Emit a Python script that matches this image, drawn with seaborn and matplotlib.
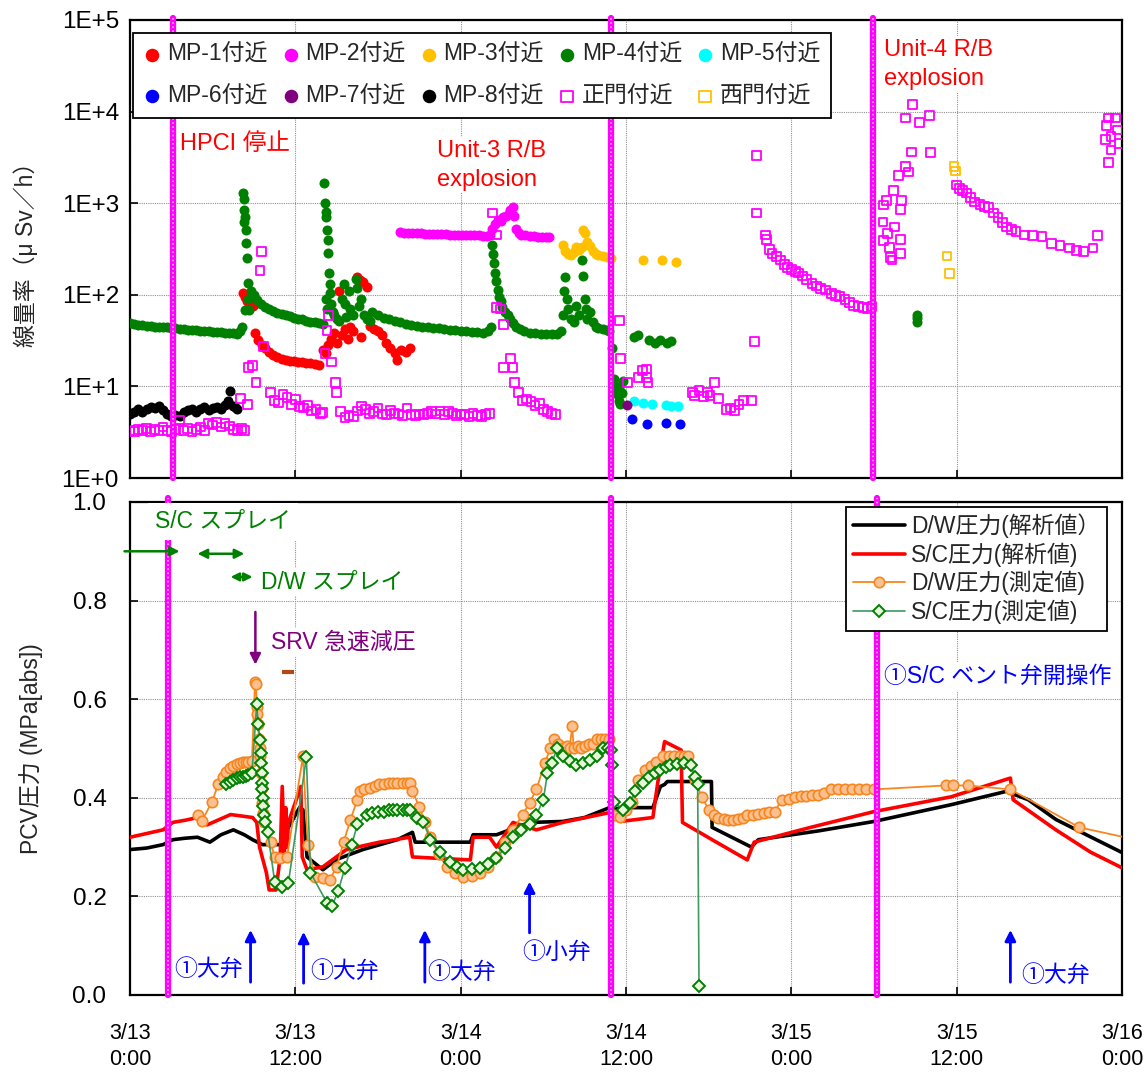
import matplotlib
matplotlib.use('Agg')
import matplotlib.pyplot as plt
import seaborn as sns

# 横軸: 3/13 0:00 からの経過時間 [h]
tick_hours = [0, 12, 24, 36, 48, 60, 72]
tick_labels = ['3/13\n0:00', '3/13\n12:00', '3/14\n0:00', '3/14\n12:00',
               '3/15\n0:00', '3/15\n12:00', '3/16\n0:00']
dose_ticks = [1, 10, 100, 1000, 10000, 100000]
dose_ticklabels = ['1E+0', '1E+1', '1E+2', '1E+3', '1E+4', '1E+5']
pcv_ticks = [0.0, 0.2, 0.4, 0.6, 0.8, 1.0]

# ---- 線量率 (μSv/h) ----
mp1_h = [8.2, 8.35, 8.5, 8.7, 8.9, 9.05, 9.3, 9.55, 9.8, 10.1, 10.4, 10.7, 11.0, 11.3, 11.6, 11.9,
         12.2, 12.5, 12.8, 13.1, 13.4, 13.7, 14.0, 14.2, 14.4, 14.6, 14.8, 15.0, 15.2, 15.4, 15.6,
         15.8, 16.0, 16.2, 16.5, 16.7, 16.9, 17.2, 16.8, 17.4, 17.7, 18.0, 18.3, 18.6, 18.9, 19.2,
         19.4, 19.7, 20.0, 20.3]
mp1_v = [105, 95, 85, 80, 75, 38, 32, 28, 26, 24, 22, 21, 20, 19.5, 19, 19,
         18.5, 18.5, 18, 18, 17.5, 17, 25, 23, 28, 33, 38, 30, 110, 36, 42,
         33, 45, 40, 157, 145, 138, 123, 35, 46, 42, 40, 36, 30, 26, 23,
         19.5, 25, 24, 26]

mp2_h = [19.6, 19.9, 20.2, 20.5, 20.8, 21.1, 21.4, 21.7, 22.0, 22.3, 22.6, 22.9, 23.2, 23.5, 23.8,
         24.1, 24.4, 24.7, 25.0, 25.3, 25.6, 25.9, 26.1, 26.3, 26.5, 26.7, 26.9, 27.1, 27.3, 27.5,
         27.6, 27.8, 27.9, 28.0, 28.2, 28.4, 28.7, 29.0, 29.3, 29.6, 29.9, 30.2, 30.4]
mp2_v = [480, 475, 475, 470, 470, 468, 465, 465, 462, 460, 460, 458, 455, 455, 452,
         450, 450, 448, 445, 445, 442, 440, 445, 520, 600, 650, 640, 700, 720, 760,
         850, 900, 720, 520, 470, 450, 445, 440, 435, 430, 430, 428, 425]

mp3_h = [31.4, 31.6, 31.8, 32.0, 32.2, 32.4, 32.6, 32.8, 32.9, 33.0, 33.2, 33.4, 33.6, 33.8,
         34.0, 34.3, 34.6, 34.9, 37.2, 38.6, 39.6]
mp3_v = [350, 300, 280, 270, 290, 330, 310, 330, 510, 470, 380, 340, 300, 280,
         270, 265, 260, 255, 240, 240, 230]

mp4_h = [0.0, 0.3, 0.6, 0.9, 1.2, 1.5, 1.8, 2.1, 2.4, 2.7, 3.0, 3.3, 3.6, 3.9, 4.2, 4.5, 4.8,
         5.1, 5.4, 5.7, 6.0, 6.3, 6.6, 6.9, 7.2, 7.5, 7.8, 8.0, 8.1,
         8.2, 8.25, 8.3, 8.35, 8.4, 8.45, 8.3, 8.5, 8.55, 8.6, 8.65, 8.35,
         8.8, 9.0, 9.2, 9.5, 9.8, 10.1, 10.4, 10.7, 11.0, 11.3, 11.6, 11.9, 12.2, 12.5, 12.8,
         13.1, 13.4, 13.7, 14.0,
         14.1, 14.15, 14.2, 14.25, 14.3, 14.35, 14.4, 14.45, 14.5, 14.55, 14.6, 14.7, 14.2, 14.3,
         14.8, 15.0, 15.2, 15.4, 15.5, 15.6, 15.7, 15.9, 16.0, 16.2, 16.4, 16.5, 16.6, 16.8,
         17.0, 17.2, 17.4,
         17.6, 18.0, 18.4, 18.8, 19.2, 19.6, 20.0, 20.4, 20.8, 21.2, 21.6, 22.0, 22.4, 22.8,
         23.2, 23.6, 24.0, 24.4, 24.8, 25.2, 25.6, 26.0, 26.2,
         26.3, 26.35, 26.4, 26.5, 26.6, 26.7, 26.8, 26.9, 27.0, 27.2, 27.4, 27.6, 27.8, 28.0,
         28.3, 28.6, 29.0, 29.4, 29.8, 30.2, 30.6, 31.0, 31.3,
         31.4, 31.5, 31.6, 31.7, 31.8, 32.0, 32.2, 32.4, 32.6, 32.8, 32.9, 33.0, 33.1, 33.2,
         33.4, 33.6, 33.8, 34.0, 34.3, 34.6, 34.8,
         35.0, 35.1, 35.2, 35.3, 35.4, 35.5, 35.6, 35.7, 35.8, 35.5,
         36.6, 36.9, 37.7, 38.1, 38.5, 39.0, 39.3, 57.1, 57.1, 57.15]
mp4_v = [49, 48, 47, 47, 46, 46, 45, 45, 44, 44, 43, 43, 42, 42, 41, 41, 41,
         40, 40, 40, 39, 39, 39, 38, 38, 38, 37, 40, 45,
         1280, 1100, 850, 700, 510, 365, 620, 250, 134, 90, 68, 68,
         110, 100, 88, 80, 74, 70, 66, 64, 62, 60, 58, 56, 55, 54, 52,
         51, 50, 49, 48,
         1660, 1000, 800, 710, 510, 400, 285, 173, 130, 104, 80, 65, 90, 70,
         60, 55, 52, 90, 130, 80, 57, 110, 70, 60, 150, 120, 75, 90,
         60, 55, 52,
         65, 60, 56, 54, 52, 50, 48, 47, 46, 45, 44, 43, 43, 42,
         41, 41, 40, 40, 39, 39, 38, 40, 45,
         350, 280, 220, 173, 140, 113, 95, 85, 74, 65, 60, 55, 49, 45,
         42, 40, 38, 38, 37, 37, 37, 37, 40,
         60, 110, 157, 90, 70, 55, 50, 75, 60, 240, 160, 90, 70, 55,
         65, 50, 45, 43, 42, 41, 40,
         26, 12, 10, 9, 8, 7, 6.5, 8.5, 11.5, 9.5,
         35, 36, 32, 30, 32, 30, 31, 50, 60, 56]

mp5_h = [36.6, 37.2, 37.9, 38.9, 39.3, 39.8]
mp5_v = [6.9, 6.6, 6.4, 6.3, 6.1, 6.1]
mp6_h = [36.4, 37.5, 38.9, 39.9]
mp6_v = [4.4, 3.9, 4.0, 3.9]
mp7_h = [36.1]
mp7_v = [6.3]

mp8_h = [0.0, 0.3, 0.6, 0.9, 1.2, 1.5, 1.8, 2.1, 2.4, 2.7, 3.0, 3.3, 3.6, 3.9, 4.2, 4.5, 4.8,
         5.1, 5.4, 5.7, 6.0, 6.3, 6.6, 6.9, 7.1, 7.25, 7.45, 7.6, 7.8]
mp8_v = [5.0, 5.3, 5.6, 5.2, 5.7, 6.0, 5.8, 6.1, 5.5, 5.0, 4.8, 4.9, 4.7, 5.2, 5.5, 5.7, 5.3,
         5.6, 5.9, 5.5, 5.8, 6.0, 5.7, 6.2, 7.0, 8.8, 6.1, 5.9, 5.7]

gate_h = [0.0, 0.3, 0.6, 0.9, 1.2, 1.5, 1.8, 2.1, 2.4, 2.7, 3.0, 3.3, 3.6, 3.9, 4.2, 4.5, 4.8,
          5.1, 5.4, 5.7, 6.0, 6.3, 6.6, 6.9, 7.2, 7.5, 7.8, 8.1, 8.3,
          8.0, 8.5, 9.55, 9.43, 9.67, 8.6, 8.9, 9.15,
          10.2, 10.5, 10.8, 11.1, 11.4, 11.7, 12.0, 12.3, 12.6, 12.9, 13.2, 13.5, 13.8, 14.0,
          14.4, 14.3, 14.15, 14.6, 14.9, 15.0,
          15.3, 15.6, 15.9, 16.2, 16.5, 16.8, 17.1, 17.4, 17.7, 18.0, 18.3, 18.6, 18.9, 19.2,
          19.5, 19.8, 20.1, 20.4, 20.7, 21.0, 21.3, 21.6, 21.9, 22.2, 22.5, 22.8, 23.1, 23.4,
          23.7, 24.0, 24.3, 24.6, 24.9, 25.2, 25.5, 25.8, 26.1,
          26.3, 26.6, 26.6, 26.9, 27.1, 27.6, 27.1, 27.8, 27.9,
          28.2, 28.5, 28.8, 29.1, 29.4, 29.7, 30.0, 30.3, 30.6, 30.9,
          35.5, 35.6, 36.1, 36.9, 37.2, 37.5, 37.5, 37.6,
          40.8, 41.0, 41.3, 41.6, 41.9, 42.1, 42.4, 42.7, 43.3, 43.6, 43.9, 44.2, 44.5, 45.1,
          45.5, 45.5, 45.3,
          46.1, 46.2, 46.4, 46.6, 46.9, 47.2, 47.5, 47.7, 48.0, 48.3, 48.5, 48.8, 49.1, 49.5,
          49.8, 50.1, 50.5, 50.9, 51.2, 51.5, 51.9, 52.2, 52.5, 52.9, 53.2, 53.5, 53.85,
          54.7, 54.65, 55.0, 55.15, 55.2, 55.5, 55.9, 55.9, 55.4, 55.8, 56.3, 56.5, 56.7, 56.3,
          56.8, 57.3, 58.0, 58.1, 55.9, 56.0, 54.9, 54.7, 55.3,
          60.0, 60.2, 60.4, 60.7, 61.0, 61.3, 61.7, 62.0, 62.3, 62.7, 63.0, 63.3, 63.6, 64.0,
          64.3, 64.9, 65.5, 66.2, 66.9, 67.5, 68.2, 68.7, 69.2, 69.9, 70.2,
          70.9, 71.0, 71.55, 71.7, 70.8, 71.2, 71.8, 71.2, 71.0]
gate_v = [3.3, 3.2, 3.4, 3.3, 3.5, 3.2, 3.4, 3.3, 3.6, 3.3, 3.2, 3.4, 4.3, 3.3, 3.5, 3.2, 3.4,
          3.6, 3.3, 3.9, 3.8, 4.0, 3.6, 3.9, 3.7, 3.4, 3.3, 3.5, 3.3,
          7.4, 6.3, 295, 186, 27, 16, 17, 11,
          8.6, 7.0, 6.6, 8.2, 7.5, 6.3, 7.2, 6.0, 5.8, 6.2, 5.4, 5.6, 5.1, 5.2,
          60, 41, 23, 18.5, 11, 8.5,
          5.3, 4.6, 4.8, 4.7, 5.4, 6.1, 5.6, 5.1, 5.3, 5.8, 5.0, 4.9, 5.5, 5.1,
          5.0, 4.8, 5.8, 4.9, 4.8, 5.0, 4.9, 5.1, 5.3, 5.0, 5.4, 4.9, 5.3, 5.1,
          4.8, 5.0, 4.9, 4.7, 5.1, 4.8, 4.7, 4.9, 5.1,
          780, 450, 72, 70, 47, 20, 16, 16, 11,
          8.5, 7.0, 7.3, 6.8, 6.2, 6.5, 5.6, 5.3, 5.1, 4.9,
          52, 20, 11, 12.6, 15, 15.5, 12.6, 11,
          8.5, 8.0, 9.0, 7.8, 8.5, 8.0, 11.0, 7.4, 5.6, 5.8, 5.5, 6.3, 7.0, 7.0,
          3300, 780, 31,
          450, 400, 310, 280, 260, 240, 215, 200, 190, 178, 173, 160, 148, 134,
          125, 118, 113, 104, 98, 95, 88, 82, 77, 74, 72, 71, 75,
          955, 625, 470, 330, 257, 550, 400, 280, 1380, 1990, 2500, 2190, 3630, 8500,
          12000, 7600, 9100, 3550, 850, 1080, 1080, 390, 240,
          1580, 1450, 1380, 1290, 1150, 1030, 960, 920, 890, 780, 700, 620, 550, 520,
          490, 450, 440, 430, 365, 345, 325, 305, 295, 325, 440,
          7100, 8500, 8500, 6300, 5000, 5300, 4500, 3800, 2800]

west_h = [59.8, 59.9, 59.3, 59.5]
west_v = [2500, 2250, 265, 170]

# ---- PCV圧力 (MPa[abs]) ----
dw_calc_h = [0.0, 1.2, 2.4, 3.1, 4.0, 4.9, 5.8, 6.6, 7.5, 8.3, 8.9, 9.6, 10.9, 11.4, 12.3, 12.55,
             12.85, 14.0, 15.0, 16.9, 19.4, 20.5, 20.7, 24.7, 24.9, 26.6, 29.0, 31.4, 33.0,
             34.8, 35.1, 35.6, 37.95, 38.5, 38.8, 39.0, 42.2, 42.25, 45.1, 45.6, 50.0, 54.0,
             59.6, 63.6, 65.2, 67.2, 69.7, 72.0]
dw_calc_v = [0.295, 0.298, 0.305, 0.315, 0.318, 0.32, 0.31, 0.325, 0.335, 0.325, 0.315, 0.305,
             0.305, 0.335, 0.38, 0.376, 0.28, 0.254, 0.275, 0.295, 0.315, 0.33, 0.31, 0.31,
             0.325, 0.325, 0.35, 0.352, 0.36, 0.38, 0.376, 0.38, 0.38, 0.423, 0.427, 0.433,
             0.433, 0.34, 0.30, 0.315, 0.333, 0.352, 0.386, 0.413, 0.396, 0.356, 0.321, 0.289]

sc_calc_h = [0.0, 2.4, 3.1, 4.1, 4.9, 5.6, 7.3, 8.9, 9.2, 9.4, 9.9, 10.1, 10.6, 10.9, 11.05,
             11.2, 11.3, 11.4, 11.5, 12.4, 12.5, 12.85, 14.0, 15.7, 18.1, 20.3, 20.5, 21.8,
             24.7, 24.9, 26.1, 26.6, 27.8, 29.5, 31.4, 34.8, 35.1, 35.6, 37.95, 38.3, 38.8,
             40.0, 40.1, 42.25, 44.8, 45.3, 49.4, 54.0, 59.6, 63.9, 64.1, 67.2, 69.7, 72.0]
sc_calc_v = [0.32, 0.335, 0.35, 0.355, 0.36, 0.345, 0.366, 0.36, 0.35, 0.30, 0.248, 0.213,
             0.213, 0.28, 0.423, 0.28, 0.38, 0.30, 0.35, 0.423, 0.28, 0.254, 0.26, 0.295,
             0.31, 0.32, 0.28, 0.278, 0.274, 0.32, 0.32, 0.30, 0.35, 0.335, 0.35, 0.37,
             0.366, 0.352, 0.36, 0.43, 0.514, 0.497, 0.35, 0.315, 0.274, 0.31, 0.34, 0.372,
             0.402, 0.44, 0.396, 0.335, 0.29, 0.258]

dw_meas_h = [4.9, 5.2, 5.95, 6.4, 6.75, 7.0, 7.25, 7.5, 7.75, 8.0, 8.2, 8.4, 8.6, 8.85,
             9.07, 9.15, 9.2, 9.25, 9.3, 9.35, 9.4, 9.43, 9.5, 9.55, 9.6, 9.65, 9.7, 10.2, 10.5,
             10.9, 11.4,
             12.55, 12.9, 13.4, 14.0, 14.5, 15.0, 15.5, 16.0, 16.5, 16.7, 17.0, 17.4, 17.8, 18.1,
             18.4, 18.8, 19.1, 19.4, 19.8, 20.1, 20.3, 20.5, 21.0, 21.4, 21.8, 22.4, 23.0, 23.6,
             24.2, 24.8, 25.4, 26.0, 26.6, 27.2, 27.8, 28.5, 29.0, 29.5, 30.1, 30.5, 30.8, 31.1,
             31.4, 31.7, 31.9, 32.1, 32.2, 32.5, 32.7, 33.0, 33.3, 33.6, 33.9, 34.2, 34.5, 34.8,
             35.1, 35.6, 36.0, 36.4, 36.9, 37.4, 37.8, 38.2, 38.7, 39.1, 39.5, 39.9, 40.2, 40.5,
             41.0, 41.5, 42.0, 42.4, 42.7, 43.1, 43.4,
             43.8, 44.1, 44.5, 44.8, 45.2, 45.6, 46.0, 46.4, 46.8, 47.3, 47.8, 48.3, 48.7, 49.1,
             49.5, 49.9, 50.4, 50.9, 51.4, 51.9, 52.4, 52.9, 53.4, 54.0,
             59.2, 59.7, 60.8, 63.9, 68.9, 73.5]
dw_meas_v = [0.366, 0.352, 0.392, 0.427, 0.443, 0.452, 0.46, 0.465, 0.468, 0.47, 0.472, 0.473,
             0.472, 0.475,
             0.634, 0.63, 0.585, 0.57, 0.55, 0.52, 0.50, 0.484, 0.45, 0.42, 0.39, 0.37, 0.35,
             0.31, 0.28,
             0.278, 0.28,
             0.484, 0.305, 0.24, 0.238, 0.234, 0.26, 0.31, 0.355, 0.396, 0.413, 0.418, 0.42,
             0.424, 0.427,
             0.427, 0.43, 0.43, 0.43, 0.43, 0.43, 0.43, 0.413, 0.382, 0.35, 0.32, 0.285, 0.26,
             0.247,
             0.24, 0.242, 0.248, 0.26, 0.28, 0.31, 0.335, 0.366, 0.39, 0.417, 0.47, 0.50, 0.52,
             0.51,
             0.50, 0.505, 0.50, 0.545, 0.50, 0.505, 0.50, 0.505, 0.51, 0.51, 0.52, 0.52, 0.52,
             0.52,
             0.366, 0.362, 0.375, 0.392, 0.437, 0.457, 0.465, 0.473, 0.484, 0.484, 0.484, 0.484,
             0.484, 0.484,
             0.437, 0.402, 0.376, 0.365, 0.36, 0.358, 0.355,
             0.355, 0.356, 0.36, 0.366, 0.366, 0.368, 0.37, 0.372, 0.372, 0.396, 0.398, 0.402,
             0.403, 0.404,
             0.405, 0.406, 0.41, 0.417, 0.417, 0.417, 0.417, 0.417, 0.417, 0.417,
             0.425, 0.425, 0.425, 0.417, 0.34, 0.312]

sc_meas_h = [7.0, 7.25, 7.5, 7.75, 8.0, 8.2, 8.4, 8.6, 8.85, 9.2, 9.3, 9.43, 9.48, 9.52, 9.55,
             9.58, 9.6, 9.63, 9.65, 9.7, 9.8, 10.0, 10.5, 11.0, 11.5,
             12.8, 13.1, 14.3, 14.65, 15.1, 15.6, 16.1, 16.5, 17.2, 17.6, 18.0, 18.4, 18.8, 19.1,
             19.4, 19.8, 20.1, 20.3, 20.8, 21.3, 21.8, 22.5, 23.2, 23.7, 24.2, 24.8, 25.4, 26.0,
             26.6, 27.2, 27.8, 28.4, 29.0, 29.5, 30.0, 30.3, 30.6, 31.0, 31.4, 31.9, 32.4, 32.9,
             33.4, 33.9, 34.3, 34.7, 34.9, 35.0, 35.1,
             35.8, 36.3, 36.65, 37.2, 37.7, 38.1, 38.5, 38.9, 39.2, 39.7, 40.2, 40.7, 41.0, 41.2,
             41.3]
sc_meas_v = [0.427, 0.432, 0.437, 0.44, 0.443, 0.443, 0.445, 0.447, 0.45, 0.59, 0.55, 0.518,
             0.49, 0.47, 0.45, 0.43, 0.417, 0.40, 0.384, 0.365, 0.35, 0.33, 0.23, 0.22, 0.228,
             0.482, 0.248, 0.187, 0.18, 0.21, 0.258, 0.305, 0.346, 0.366, 0.37, 0.372, 0.372,
             0.375, 0.376, 0.376, 0.376, 0.376, 0.376, 0.36, 0.35, 0.315, 0.29, 0.27, 0.26,
             0.254, 0.255, 0.258, 0.265, 0.278, 0.298, 0.32, 0.335, 0.346, 0.366, 0.396, 0.45,
             0.47, 0.50, 0.484, 0.475, 0.467, 0.47, 0.477, 0.485, 0.50, 0.50, 0.497, 0.467,
             0.392,
             0.376, 0.39, 0.413, 0.43, 0.443, 0.45, 0.457, 0.462, 0.467, 0.468, 0.47, 0.467,
             0.443, 0.427, 0.018]

FS = 16.5      # 凡例・注記
FS_RED = 17    # 上段の赤字注記
FS_YT = 17.5   # 縦軸目盛
FS_XT = 15.5   # 横軸目盛
MAG = '#FF00FF'

sns.set_style('ticks')
plt.rcParams['font.family'] = ['Liberation Sans', 'Noto Sans CJK JP']
plt.rcParams['axes.unicode_minus'] = False

fig = plt.figure(figsize=(11.48, 10.77), dpi=100)
ax1 = fig.add_axes([0.11324, 0.55617, 0.86411, 0.42526])
ax2 = fig.add_axes([0.11324, 0.07614, 0.86411, 0.45776])

# ---------------- 上段: 線量率 ----------------
def dots(h, v, color, label):
    sns.scatterplot(x=h, y=v, ax=ax1, color=color, s=52, linewidth=0, label=label,
                    zorder=3, legend=False)

dots(mp1_h, mp1_v, '#FF0000', 'MP-1付近')
dots(mp2_h, mp2_v, MAG, 'MP-2付近')
dots(mp3_h, mp3_v, '#FFC000', 'MP-3付近')
dots(mp4_h, mp4_v, '#008000', 'MP-4付近')
dots(mp5_h, mp5_v, '#00FFFF', 'MP-5付近')
dots(mp6_h, mp6_v, '#0000FF', 'MP-6付近')
dots(mp7_h, mp7_v, '#800080', 'MP-7付近')
dots(mp8_h, mp8_v, '#000000', 'MP-8付近')
sns.scatterplot(x=gate_h, y=gate_v, ax=ax1, marker='s', s=40, facecolor='none',
                edgecolor=MAG, linewidth=1.3, label='正門付近', zorder=4, legend=False)
sns.scatterplot(x=west_h, y=west_v, ax=ax1, marker='s', s=40, facecolor='none',
                edgecolor='#FFC000', linewidth=1.3, label='西門付近', zorder=4, legend=False)

ax1.set_yscale('log')
ax1.set_ylim(1, 1e5)
ax1.set_yticks(dose_ticks)
ax1.set_yticklabels(dose_ticklabels)
ax1.minorticks_off()
ax1.set_ylabel('線量率（μ Sv／h）', fontsize=FS)
ax1.yaxis.set_label_coords(-0.093, 0.5)

h, l = ax1.get_legend_handles_labels()
order = [0, 5, 1, 6, 2, 7, 3, 8, 4, 9]
leg1 = ax1.legend([h[i] for i in order], [l[i] for i in order], ncol=5, loc='upper left',
                  bbox_to_anchor=(0.003, 0.972), borderaxespad=0, fontsize=FS,
                  fancybox=False, framealpha=1, edgecolor='black', handlelength=0.8,
                  handletextpad=0.25, columnspacing=0.6, labelspacing=0.8,
                  borderpad=0.45, markerscale=1.35)
leg1.get_frame().set_linewidth(1.3)
leg1.set_zorder(10)

box = dict(facecolor='white', edgecolor='none', pad=2)
ax1.text(3.6, 4400, 'HPCI 停止', color='#FF0000', fontsize=FS_RED, va='center', ha='left',
         bbox=box, zorder=5)
ax1.text(22.3, 2600, 'Unit-3 R/B\nexplosion', color='#FF0000', fontsize=FS_RED, va='center',
         ha='left', linespacing=1.4, bbox=box, zorder=5)
ax1.text(54.7, 33000, 'Unit-4 R/B\nexplosion', color='#FF0000', fontsize=FS_RED, va='center',
         ha='left', linespacing=1.4, bbox=box, zorder=5)

for xv in [3.12, 34.9, 53.95]:
    ax1.axvline(xv, ymax=1.005, color=MAG, lw=4.5, zorder=6, clip_on=False)
    ax1.axvline(xv, ymax=1.005, color='#FFB3FF', lw=1.2, ls=(0, (1, 1.5)), zorder=6,
                clip_on=False)

# ---------------- 下段: PCV圧力 ----------------
sns.lineplot(x=dw_calc_h, y=dw_calc_v, ax=ax2, sort=False, estimator=None, color='black',
             lw=2.6, label='D/W圧力(解析値）', zorder=3)
sns.lineplot(x=sc_calc_h, y=sc_calc_v, ax=ax2, sort=False, estimator=None, color='#FF0000',
             lw=2.6, label='S/C圧力(解析値)', zorder=3)
sns.lineplot(x=dw_meas_h, y=dw_meas_v, ax=ax2, sort=False, estimator=None, color='#F7861E',
             lw=1.3, marker='o', ms=7.5, mfc='#FAC090', mec='#F7861E', mew=1.2,
             label='D/W圧力(測定値)', zorder=4)
sns.lineplot(x=sc_meas_h, y=sc_meas_v, ax=ax2, sort=False, estimator=None, color='#3C9A5F',
             lw=1.2, marker='D', ms=6.5, mfc='#E8F5D8', mec='#008000', mew=1.4,
             label='S/C圧力(測定値)', zorder=5)
ax2.plot([11.45], [0.655], marker='_', ms=8, mew=3, color='#B04A12', zorder=5)

ax2.set_xlim(0, 72)
ax2.set_ylim(0, 1.0)
ax2.set_yticks(pcv_ticks)
ax2.set_yticklabels([f'{t:.1f}' for t in pcv_ticks])
ax2.set_ylabel('PCV圧力 (MPa[abs])', fontsize=FS)
ax2.yaxis.set_label_coords(-0.088, 0.5)

leg2 = ax2.legend(loc='upper right', bbox_to_anchor=(0.985, 0.99), borderaxespad=0,
                  fontsize=FS, fancybox=False, framealpha=1, edgecolor='black',
                  handlelength=2.3, labelspacing=0.18, borderpad=0.3, handletextpad=0.25)
leg2.get_frame().set_linewidth(1.3)
leg2.set_zorder(10)

# 注記 (スプレイ・減圧・弁操作)
GREEN = '#008000'
BLUE = '#0000FF'
PURP = '#800080'
ax2.text(1.8, 0.961, 'S/C スプレイ', color=GREEN, fontsize=FS, va='center', ha='left',
         bbox=dict(facecolor='white', edgecolor='none', pad=5), zorder=7)
ax2.annotate('', xy=(3.6, 0.90), xytext=(-0.4, 0.90), annotation_clip=False,
             arrowprops=dict(arrowstyle='-|>', color=GREEN, lw=1.8, mutation_scale=14,
                             shrinkA=0, shrinkB=0), zorder=8)
ax2.annotate('', xy=(8.3, 0.895), xytext=(4.9, 0.895),
             arrowprops=dict(arrowstyle='<|-|>', color=GREEN, lw=1.8, mutation_scale=14,
                             shrinkA=0, shrinkB=0))
ax2.annotate('', xy=(8.9, 0.848), xytext=(7.3, 0.848),
             arrowprops=dict(arrowstyle='<|-|>', color=GREEN, lw=1.8, mutation_scale=12,
                             shrinkA=0, shrinkB=0))
ax2.text(9.5, 0.838, 'D/W スプレイ', color=GREEN, fontsize=FS, va='center', ha='left',
         bbox=box, zorder=7)
ax2.annotate('', xy=(9.1, 0.67), xytext=(9.1, 0.777),
             arrowprops=dict(arrowstyle='-|>', color=PURP, lw=1.8, mutation_scale=16,
                             shrinkA=0, shrinkB=0))
ax2.text(10.2, 0.715, 'SRV 急速減圧', color=PURP, fontsize=FS, va='center', ha='left',
         bbox=box, zorder=7)

valve_arrows = [(8.75, 0.026, 0.132), (12.6, 0.024, 0.128), (21.4, 0.026, 0.132),
                (29.0, 0.126, 0.23), (63.9, 0.026, 0.132)]
for xa, y0, y1 in valve_arrows:
    ax2.annotate('', xy=(xa, y1), xytext=(xa, y0),
                 arrowprops=dict(arrowstyle='-|>', color=BLUE, lw=2, mutation_scale=16,
                                 shrinkA=0, shrinkB=0))
valve_texts = [(8.2, 0.051, 'right', '①大弁'), (13.1, 0.047, 'left', '①大弁'),
               (21.6, 0.045, 'left', '①大弁'), (28.45, 0.087, 'left', '①小弁'),
               (64.7, 0.040, 'left', '①大弁')]
for xt, yt, ha, s in valve_texts:
    ax2.text(xt, yt, s, color=BLUE, fontsize=FS, va='center', ha=ha, zorder=7)
ax2.text(54.7, 0.646, '①S/C ベント弁開操作', color=BLUE, fontsize=FS, va='center',
         ha='left', bbox=box, zorder=7)

for xv in [2.76, 34.9, 54.25]:
    ax2.axvline(xv, ymax=1.008, color=MAG, lw=4.5, zorder=6, clip_on=False)
    ax2.axvline(xv, ymax=1.008, color='#FFB3FF', lw=1.2, ls=(0, (1, 1.5)), zorder=6,
                clip_on=False)

# ---------------- 共通の体裁 ----------------
for ax in (ax1, ax2):
    ax.set_xlim(0, 72)
    ax.set_xticks(tick_hours)
    ax.grid(True, color='#909090', lw=0.8, ls=(0, (1, 1)))
    ax.set_axisbelow(True)
    for sp in ax.spines.values():
        sp.set_visible(True)
        sp.set_color('black')
        sp.set_linewidth(1.6)
    ax.tick_params(direction='in', length=6, width=1.2, colors='black',
                   top=False, right=False)
    ax.tick_params(axis='y', labelsize=FS_YT)
    ax.tick_params(axis='x', labelsize=FS_XT)
    ax.set_xlabel('')

ax1.tick_params(axis='x', labelbottom=False)
ax1.tick_params(axis='y', pad=8)
ax2.tick_params(axis='y', pad=17)
ax2.set_xticklabels(tick_labels)
ax2.tick_params(axis='x', pad=20)
for t in ax2.get_xticklabels():
    t.set_linespacing(1.3)

fig.savefig('out.png', dpi=100)
